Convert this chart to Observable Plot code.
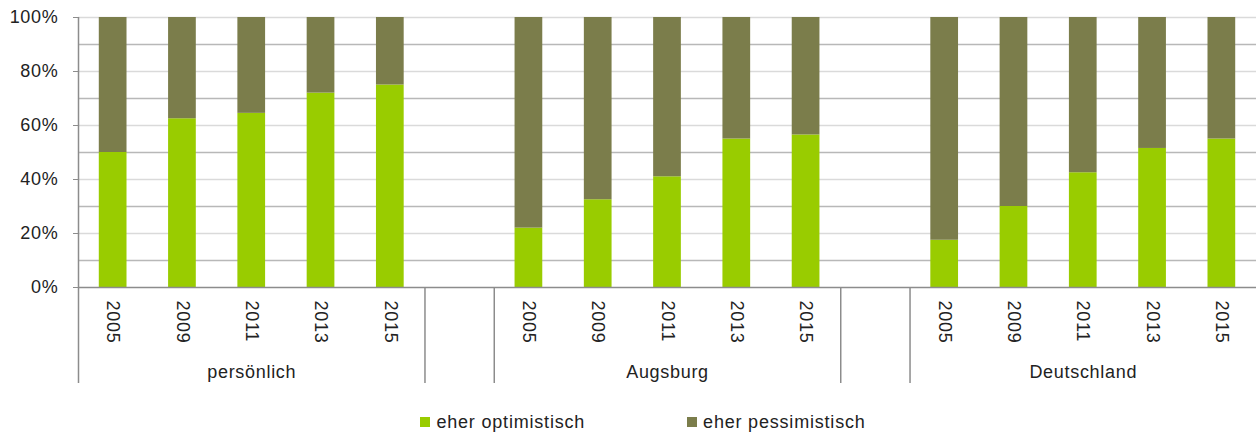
<!DOCTYPE html>
<html>
<head>
<meta charset="utf-8">
<script src="https://cdn.jsdelivr.net/npm/d3@7"></script>
<script src="https://cdn.jsdelivr.net/npm/@observablehq/plot@0.6"></script>
<style>
  html, body { margin: 0; padding: 0; background: #fff; }
  #chart svg text { letter-spacing: 0.7px; }
  #legend { display: flex; justify-content: center; padding-left: 30px; padding-top: 11px;
    height: 21px; font: 18px "Liberation Sans", Arial, sans-serif; letter-spacing: 0.8px; color: #222; line-height: 18px; }
  #legend .item { display: flex; align-items: center; }
  #legend .item + .item { margin-left: 102px; }
  #legend .sw { width: 10px; height: 10px; display: inline-block; margin-right: 6px; }
</style>
</head>
<body>
<div id="chart"></div>
<div id="legend"></div>
<script>
// ---- data ----
const groups = ["persönlich", "Augsburg", "Deutschland"];
const years = ["2005", "2009", "2011", "2013", "2015"];
const seriesNames = ["eher optimistisch", "eher pessimistisch"];
const seriesColors = ["#99cc00", "#7b7d4b"];
// percentages
const optPersoenlich = [50, 62.5, 64.5, 72, 75];
const pesPersoenlich = [50, 37.5, 35.5, 28, 25];
const optAugsburg = [22, 32.5, 41, 55, 56.5];
const pesAugsburg = [78, 67.5, 59, 45, 43.5];
const optDeutschland = [17.5, 30, 42.5, 51.5, 55];
const pesDeutschland = [82.5, 70, 57.5, 48.5, 45];
const yTicks = [0, 0.2, 0.4, 0.6, 0.8, 1];
const yMinor = [0.1, 0.3, 0.5, 0.7, 0.9];

const optAll = [optPersoenlich, optAugsburg, optDeutschland];
const pesAll = [pesPersoenlich, pesAugsburg, pesDeutschland];

// slots: 5 years per group, blank slot between groups
const slots = [];
groups.forEach((g, gi) => {
  if (gi > 0) slots.push("gap" + gi);
  years.forEach(y => slots.push(g + " " + y));
});

const rows = [];
groups.forEach((g, gi) => {
  years.forEach((y, yi) => {
    rows.push({slot: g + " " + y, group: g, year: y, series: seriesNames[0], value: optAll[gi][yi] / 100});
    rows.push({slot: g + " " + y, group: g, year: y, series: seriesNames[1], value: pesAll[gi][yi] / 100});
  });
});
const labelRows = rows.filter(d => d.series === seriesNames[0]);
const groupRows = groups.map(g => ({group: g, slot: g + " " + years[2]}));
const boundaries = [slots[0]].concat(slots.filter(s => s.startsWith("gap")).flatMap((s, i) => [s, groups[i + 1] + " " + years[0]]));

// ---- layout ----
const W = 1256, H = 400, ML = 78, MR = 0, MT = 17, MB = 113;
const step = (W - ML - MR) / slots.length;
const frameH = H - MT - MB;
const font = "Liberation Sans, Arial, sans-serif";

const chart = Plot.plot({
  width: W, height: H,
  marginLeft: ML, marginRight: MR, marginTop: MT, marginBottom: MB,
  style: {fontFamily: font, fontSize: "18px", color: "#222", background: "#fff"},
  x: {type: "band", domain: slots, paddingInner: 0.6, paddingOuter: 0.3, round: false, axis: null},
  y: {domain: [0, 1], axis: null},
  color: {domain: seriesNames, range: seriesColors},
  marks: [
    Plot.ruleY(yTicks.slice(1), {stroke: "#dadada", strokeWidth: 1.5}),
    Plot.ruleY(yMinor, {stroke: "#b8b8b8", strokeWidth: 1.5}),
    Plot.barY(rows, {x: "slot", y: "value", fill: "series"}),
    Plot.ruleY([0], {stroke: "#8c8c8c", strokeWidth: 1.5}),
    Plot.axisY({ticks: yTicks, tickFormat: d3.format(".0%"), tickSize: 5, tickPadding: 15, label: null,
      stroke: "#8c8c8c", fill: "#222", fontSize: 18}),
    // left axis line
    Plot.ruleX([slots[0]], {x: d => d, dx: -step / 2, stroke: "#8c8c8c", strokeWidth: 1.5, insetBottom: -96}),
    // separators below the axis
    Plot.ruleX(boundaries.slice(1), {x: d => d, dx: -step / 2, stroke: "#8c8c8c", strokeWidth: 1.5,
      insetTop: frameH, insetBottom: -96}),
    Plot.text(labelRows, {x: "slot", text: "year", frameAnchor: "bottom", rotate: 90,
      textAnchor: "start", lineAnchor: "middle", dy: 13, fontSize: 18, fill: "#222"}),
    Plot.text(groupRows, {x: "slot", text: "group", frameAnchor: "bottom", lineAnchor: "middle",
      dy: 85, fontSize: 18, fill: "#222"})
  ]
});
document.getElementById("chart").append(chart);

const legend = document.getElementById("legend");
seriesNames.forEach((name, i) => {
  const item = document.createElement("span");
  item.className = "item";
  const sw = document.createElement("span");
  sw.className = "sw";
  sw.style.background = seriesColors[i];
  item.append(sw, document.createTextNode(name));
  legend.append(item);
});
</script>
</body>
</html>
